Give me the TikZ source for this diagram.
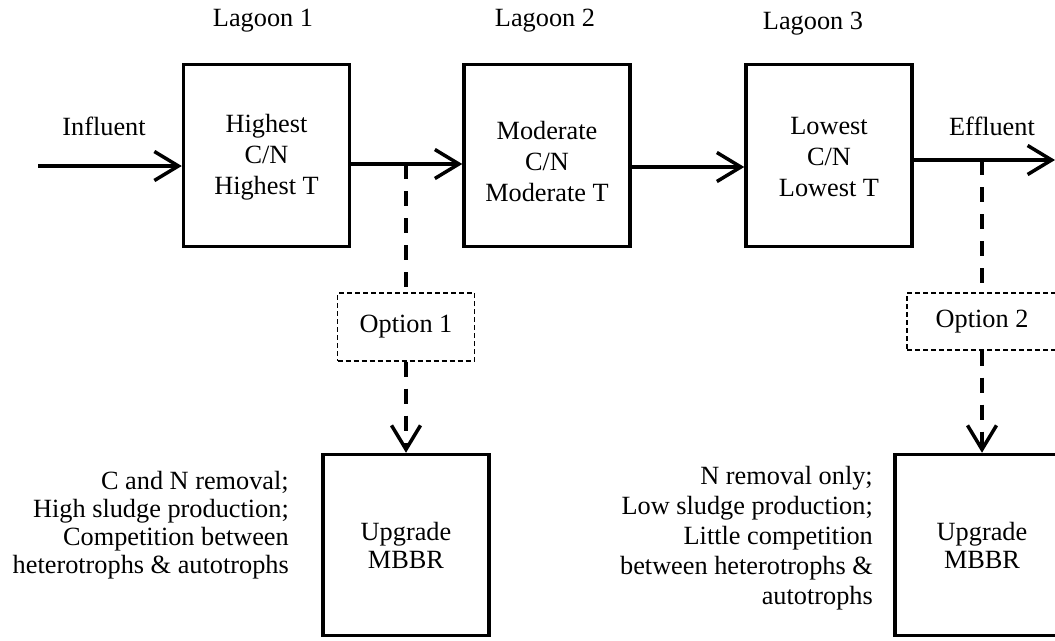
\documentclass[tikz,border=0pt]{standalone}
\usepackage{fontspec}
\setmainfont{Liberation Serif}
\usetikzlibrary{arrows.meta}
\begin{document}
\begin{tikzpicture}[x=1pt,y=-1pt,
  font=\fontsize{26.3}{31}\selectfont,
  >={Straight Barb[length=24pt,width=29pt]},
  lagoon/.style={draw,line width=3.5pt,minimum width=166pt,minimum height=182pt,inner sep=0pt},
  mbbr/.style={draw,line width=3.5pt,minimum width=166pt,minimum height=181pt,align=center,
     font=\fontsize{26.3}{28}\selectfont},
  optbox/.style={draw,line width=1.2pt,dash pattern=on 5pt off 3pt,inner sep=0pt},
  boxtxt/.style={align=center,inner sep=0pt},
  lbl/.style={inner sep=0pt},
  flow/.style={line width=3.5pt,->},
  dashflow/.style={line width=3.5pt,dash pattern=on 15pt off 12pt},
]
\useasboundingbox (0,0) rectangle (1055,640);
\clip (0,0) rectangle (1055,640);

% lagoon boxes
\node[lagoon] (L1) at (266.5,155.5) {};
\node[lagoon] (L2) at (547,155.5) {};
\node[lagoon] (L3) at (829,155.5) {};
\node[boxtxt] (t1) at (266.5,157) {Highest\\C/N\\Highest T};
\node[boxtxt] (t2) at (547,162) {Moderate\\C/N\\Moderate T};
\node[boxtxt] (t3) at (829,157) {Lowest\\C/N\\Lowest T};

% titles
\node[lbl] (h1) at (263,21) {Lagoon 1};
\node[lbl] (h2) at (545,21) {Lagoon 2};
\node[lbl] (h3) at (813,24) {Lagoon 3};
\node[lbl] (inf) at (104,126) {Influent};
\node[lbl] (eff) at (992,126) {Effluent};

% main flow
\coordinate (start) at (38,166);
\coordinate (end) at (1055,160);
\draw[flow] (start) -- (L1.west |- start);
\draw[flow] (L1.east |- 0,164) -- (L2.west |- 0,164);
\draw[flow] (L2.east |- 0,167) -- (L3.west |- 0,167);
\draw[flow] (L3.east |- end) -- (end);

% options
\coordinate (j1) at (406,164);
\coordinate (j2) at (982,160);
\node[optbox,minimum width=137pt,minimum height=68pt] (O1) at (406,327) {Option 1};
\node[optbox,minimum width=150pt,minimum height=57pt] (O2) at (982,321.5) {Option 2};

\node[mbbr] (M1) at (406,545) {Upgrade\\MBBR};
\node[mbbr,minimum width=174pt] (M2) at (982,545) {Upgrade\\MBBR};

\draw[dashflow] (j1) -- (O1.north);
\draw[dashflow,->] (O1.south) -- (M1.north);
\draw[dashflow] (j2) -- (O2.north);
\draw[dashflow,->] (O2.south) -- (M2.north);

% notes
\node[lbl,align=right,anchor=east,font=\fontsize{26.3}{28}\selectfont] (n1) at (289,525)
  {C and N removal;\\High sludge production;\\Competition between\\heterotrophs \& autotrophs};
\node[lbl,align=right,anchor=east,font=\fontsize{26.3}{30}\selectfont] (n2) at (873,538)
  {N removal only;\\Low sludge production;\\Little competition\\between heterotrophs \&\\autotrophs};
\end{tikzpicture}
\end{document}
